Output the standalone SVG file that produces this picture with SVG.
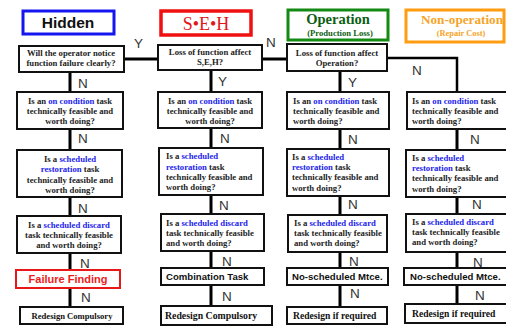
<svg xmlns="http://www.w3.org/2000/svg" width="506" height="329" viewBox="0 0 506 329">
<style>
.box{fill:#fff;stroke:#111;stroke-width:2}
.q{font-family:"Liberation Serif",serif;font-weight:bold;font-size:8.7px;fill:#222}
.c{text-anchor:middle}
.hl{fill:#2323ee}
.lbl{font-family:"Liberation Sans",sans-serif;font-size:13.5px;fill:#333}
.conn{stroke:#000;stroke-width:3;fill:none}
.act{font-family:"Liberation Sans",sans-serif;font-weight:bold;font-size:9.6px;fill:#111}
.rd{font-family:"Liberation Serif",serif;font-weight:bold;fill:#111}
</style>
<rect width="506" height="329" fill="#fff"/>
<g id="connectors">
<line class="conn" x1="124" y1="59" x2="158" y2="59"/>
<line class="conn" x1="262" y1="59" x2="287" y2="59"/>
<polyline class="conn" style="stroke-width:2.5" points="387,58 457,58 457,92"/>
<path class="conn" d="M70 72V92M70 129V150M70 197V216M70 253V270M70 288V307"/>
<path class="conn" d="M211 70V92M211 128V148M211 195V214M211 251V268M211 285V306"/>
<path class="conn" d="M340 71V92M340 129V149M340 196V215M340 252V268M340 285V307"/>
<path class="conn" d="M457 129V150M457 197V214M457 252V268M457 285V304"/>
<text class="lbl" x="134" y="48">Y</text>
<text class="lbl" x="266" y="47">N</text>
<text class="lbl" x="78" y="88">N</text>
<text class="lbl" x="218" y="86">Y</text>
<text class="lbl" x="348" y="87">Y</text>
<text class="lbl" x="412" y="75">N</text>
<text class="lbl" x="78" y="143">N</text>
<text class="lbl" x="220" y="143">N</text>
<text class="lbl" x="348" y="144">N</text>
<text class="lbl" x="470" y="144">N</text>
<text class="lbl" x="78" y="213">N</text>
<text class="lbl" x="219" y="210">N</text>
<text class="lbl" x="348" y="209">N</text>
<text class="lbl" x="472" y="209">N</text>
<text class="lbl" x="80" y="268">N</text>
<text class="lbl" x="222" y="266">N</text>
<text class="lbl" x="349" y="266">N</text>
<text class="lbl" x="473" y="267">N</text>
<text class="lbl" x="81" y="302">N</text>
<text class="lbl" x="222" y="301">N</text>
<text class="lbl" x="350" y="298">N</text>
<text class="lbl" x="475" y="300">N</text>
</g>
<g id="hdr-hidden">
<rect x="23" y="11" width="91" height="23" fill="#fff" stroke="#1515f0" stroke-width="3"/>
<text x="68" y="28" text-anchor="middle" font-family="Liberation Sans,sans-serif" font-weight="bold" font-size="15.5" fill="#111">Hidden</text>
</g>
<g id="hdr-seh">
<rect x="161" y="11" width="90" height="24" fill="#fff" stroke="#f01010" stroke-width="3.5"/>
<text x="206" y="30" text-anchor="middle" font-family="Liberation Serif,serif" font-size="18" fill="#e01818">S•E•H</text>
</g>
<g id="hdr-operation">
<rect x="288" y="10" width="100" height="30" fill="#fff" stroke="#138a13" stroke-width="3"/>
<text x="338" y="24" text-anchor="middle" font-family="Liberation Serif,serif" font-weight="bold" font-size="14.5" fill="#0d5e12">Operation</text>
<text x="340" y="36" text-anchor="middle" font-family="Liberation Serif,serif" font-weight="bold" font-size="8.6" fill="#0d5e12">(Production Loss)</text>
</g>
<g id="hdr-nonoperation">
<rect x="406" y="10" width="98" height="32" fill="#fff" stroke="#ff9c10" stroke-width="3"/>
<text x="462" y="24" text-anchor="middle" font-family="Liberation Serif,serif" font-weight="bold" font-size="13.2" fill="#f5a428">Non-operation</text>
<text x="461" y="36" text-anchor="middle" font-family="Liberation Serif,serif" font-weight="bold" font-size="8.4" fill="#f5a428">(Repair Cost)</text>
</g>
<g id="q-hidden">
<rect class="box" x="19" y="46" width="105" height="26"/>
<text class="q c" x="71" y="56">Will the operator  notice</text>
<text class="q c" x="71" y="66">function failure clearly?</text>
</g>
<g id="q-seh">
<rect class="box" x="158" y="45" width="104" height="25"/>
<text class="q c" x="210" y="55">Loss of function affect</text>
<text class="q c" x="210" y="65">S,E,H?</text>
</g>
<g id="q-operation">
<rect class="box" x="287" y="44" width="100" height="27"/>
<text class="q c" x="337" y="56">Loss of function affect</text>
<text class="q c" x="337" y="66">Operation?</text>
</g>
<g id="oc-1">
<rect class="box" x="17" y="92" width="106" height="37"/>
<text class="q c" x="70" y="104">Is an <tspan class="hl">on condition</tspan> task</text>
<text class="q c" x="70" y="114">technically feasible and</text>
<text class="q c" x="70" y="124">worth doing?</text>
</g>
<g id="oc-2">
<rect class="box" x="158" y="92" width="104" height="36"/>
<text class="q c" x="210" y="104">Is an <tspan class="hl">on condition</tspan> task</text>
<text class="q c" x="210" y="114">technically feasible and</text>
<text class="q c" x="210" y="124">worth doing?</text>
</g>
<g id="oc-3">
<rect class="box" x="287" y="92" width="102" height="37"/>
<text class="q" x="293" y="104">Is an <tspan class="hl">on condition</tspan> task</text>
<text class="q" x="293" y="114">technically feasible and</text>
<text class="q" x="293" y="124">worth doing?</text>
</g>
<g id="oc-4">
<rect class="box" x="407" y="92" width="102" height="37"/>
<text class="q" x="412" y="104">Is an <tspan class="hl">on condition</tspan> task</text>
<text class="q" x="412" y="114">technically feasible and</text>
<text class="q" x="412" y="124">worth doing?</text>
</g>
<g id="sr-1">
<rect class="box" x="17" y="150" width="105" height="47"/>
<text class="q c" x="70" y="162">Is a <tspan class="hl">scheduled</tspan></text>
<text class="q c" x="70" y="172"><tspan class="hl">restoration</tspan> task</text>
<text class="q c" x="70" y="183">technically feasible and</text>
<text class="q c" x="70" y="193">worth doing?</text>
</g>
<g id="sr-2">
<rect class="box" x="159" y="148" width="104" height="47"/>
<text class="q" x="166" y="159">Is a <tspan class="hl">scheduled</tspan></text>
<text class="q" x="166" y="170"><tspan class="hl">restoration</tspan> task</text>
<text class="q" x="166" y="180">technically feasible and</text>
<text class="q" x="166" y="190">worth doing?</text>
</g>
<g id="sr-3">
<rect class="box" x="287" y="149" width="102" height="47"/>
<text class="q" x="292" y="160">Is a <tspan class="hl">scheduled</tspan></text>
<text class="q" x="292" y="170"><tspan class="hl">restoration</tspan> task</text>
<text class="q" x="292" y="180">technically feasible and</text>
<text class="q" x="292" y="191">worth doing?</text>
</g>
<g id="sr-4">
<rect class="box" x="406" y="150" width="103" height="47"/>
<text class="q" x="412" y="161">Is a <tspan class="hl">scheduled</tspan></text>
<text class="q" x="412" y="171"><tspan class="hl">restoration</tspan> task</text>
<text class="q" x="412" y="181">technically feasible and</text>
<text class="q" x="412" y="192">worth doing?</text>
</g>
<g id="sd-1">
<rect class="box" x="17" y="216" width="104" height="37"/>
<text class="q c" x="69" y="228">Is a <tspan class="hl">scheduled discard</tspan></text>
<text class="q c" x="69" y="238">task technically feasible</text>
<text class="q c" x="69" y="248">and worth doing?</text>
</g>
<g id="sd-2">
<rect class="box" x="161" y="214" width="103" height="37"/>
<text class="q" x="166" y="226">Is a <tspan class="hl">scheduled discard</tspan></text>
<text class="q" x="166" y="236">task technically feasible</text>
<text class="q" x="166" y="246">and worth doing?</text>
</g>
<g id="sd-3">
<rect class="box" x="288" y="215" width="99" height="37"/>
<text class="q" x="294" y="226">Is a <tspan class="hl">scheduled discard</tspan></text>
<text class="q" x="294" y="236">task technically feasible</text>
<text class="q" x="294" y="246">and worth doing?</text>
</g>
<g id="sd-4">
<rect class="box" x="406" y="214" width="103" height="38"/>
<text class="q" x="412" y="225">Is a <tspan class="hl">scheduled discard</tspan></text>
<text class="q" x="412" y="235">task technically feasible</text>
<text class="q" x="412" y="245">and worth doing?</text>
</g>
<g id="act-1">
<rect x="16" y="270" width="104" height="18" fill="#fff" stroke="#e81818" stroke-width="2"/>
<text x="68" y="283" text-anchor="middle" font-family="Liberation Sans,sans-serif" font-weight="bold" font-size="11" fill="#ee1c1c">Failure Finding</text>
</g>
<g id="act-2">
<rect class="box" x="161" y="268" width="103" height="17"/>
<text class="act" x="166" y="280">Combination Task</text>
</g>
<g id="act-3">
<rect class="box" x="287" y="268" width="101" height="17"/>
<text class="act" x="292" y="280">No-scheduled Mtce.</text>
</g>
<g id="act-4">
<rect class="box" x="404" y="268" width="105" height="17"/>
<text class="act" x="410" y="280">No-scheduled Mtce.</text>
</g>
<g id="rd-1">
<rect class="box" x="20" y="307" width="103" height="17"/>
<text class="rd" x="72" y="319" text-anchor="middle" font-size="8.6">Redesign Compulsory</text>
</g>
<g id="rd-2">
<rect class="box" x="161" y="306" width="111" height="19"/>
<text class="rd" x="165" y="319" font-size="9.8">Redesign Compulsory</text>
</g>
<g id="rd-3">
<rect class="box" x="287" y="307" width="100" height="17"/>
<text class="rd" x="293" y="319" font-size="9.6">Redesign if required</text>
</g>
<g id="rd-4">
<rect class="box" x="405" y="304" width="104" height="19"/>
<text class="rd" x="412" y="317" font-size="9.6">Redesign if required</text>
</g>
</svg>
